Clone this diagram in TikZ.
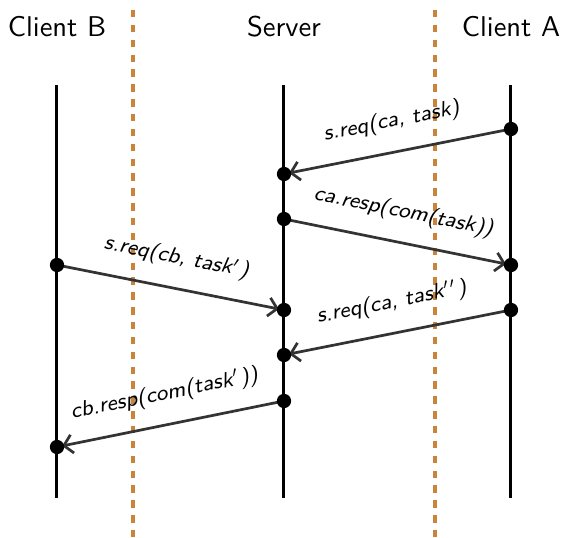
\documentclass[tikz,border=0pt]{standalone}
\usetikzlibrary{arrows.meta}
\definecolor{zonecol}{RGB}{200,132,58}
\definecolor{msgcol}{RGB}{51,51,51}
\tikzset{
  life/.style={line width=1.05pt},
  zone/.style={line width=1.1pt,draw=zonecol,dash pattern=on 2.6pt off 2.6pt},
  msg/.style={line width=0.95pt,draw=msgcol,-{Straight Barb[length=3pt,width=6.5pt]},shorten >=1.8pt},
  lbl/.style={font=\fontsize{7.6}{9}\sffamily\itshape,midway,above=3pt,sloped},
  title/.style={font=\sffamily}
}
\begin{document}
\begin{tikzpicture}[x=0.35pt,y=-0.35pt]
        \useasboundingbox (0,0) rectangle (564,538);

        % Titel
        \node[title] (tB) at (57,27) {Client B};
        \node[title] (tS) at (284,27) {Server};
        \node[title] (tA) at (511,27) {Client A};

        % Zonengrenzen
        \draw[zone] (133,10) -- (133,538);
        \draw[zone] (435,10) -- (435,538);

        % Lebenslinien
        \coordinate (B0) at (57,85);   \coordinate (B1) at (57,498);
        \coordinate (S0) at (284,85);  \coordinate (S1) at (284,498);
        \coordinate (A0) at (511,85);  \coordinate (A1) at (511,498);
        \draw[life] (B0) -- (B1);
        \draw[life] (S0) -- (S1);
        \draw[life] (A0) -- (A1);

        % Ereignisse
        \coordinate (a1) at (511,129);
        \coordinate (s1) at (284,174);
        \coordinate (s2) at (284,219);
        \coordinate (a2) at (511,265);
        \coordinate (b1) at (57,265);
        \coordinate (s3) at (284,310);
        \coordinate (a3) at (511,310);
        \coordinate (s4) at (284,355);
        \coordinate (s5) at (284,401);
        \coordinate (b2) at (57,447);

        % Nachrichten
        \draw[msg] (a1) -- node[lbl] {s.req(ca, task)} (s1);
        \draw[msg] (s2) -- node[lbl] {ca.resp(com(task))} (a2);
        \draw[msg] (b1) -- node[lbl] {s.req(cb, task$'$)} (s3);
        \draw[msg] (a3) -- node[lbl] {s.req(ca, task$''$)} (s4);
        \draw[msg] (s5) -- node[lbl] {cb.resp(com(task$'$))} (b2);

        \foreach \p in {a1,s1,s2,a2,b1,s3,a3,s4,s5,b2}
            \fill (\p) circle (2.5pt);
    \end{tikzpicture}
\end{document}
